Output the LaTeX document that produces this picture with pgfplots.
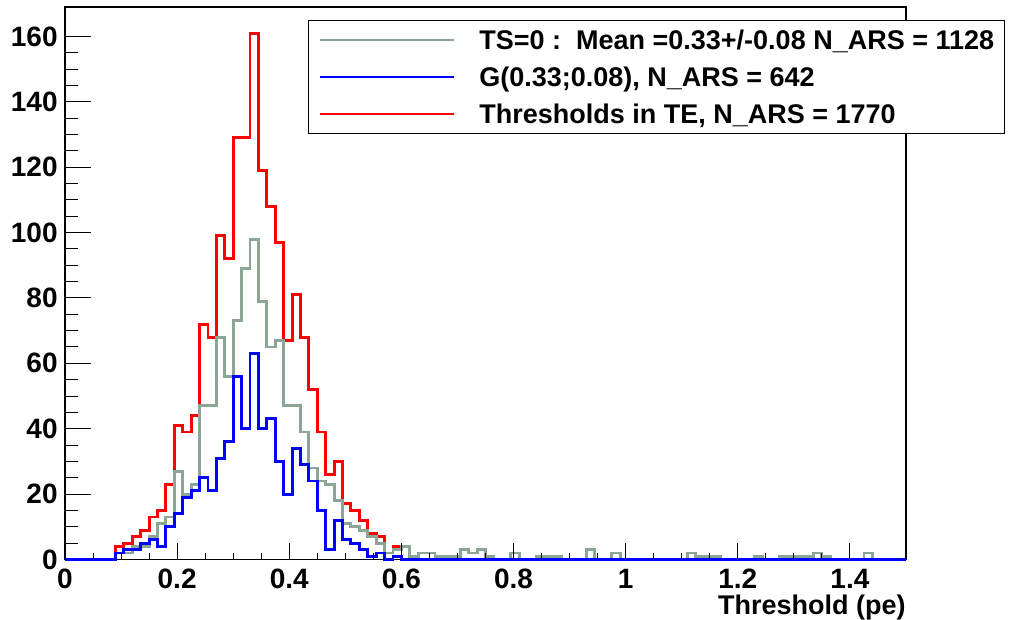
\documentclass[border=0pt]{standalone}
\usepackage{fontspec}
\setmainfont{Liberation Sans}
\usepackage{pgfplots}
\usepackage{pgfplotstable}
\pgfplotsset{compat=1.18}
\definecolor{hgrey}{RGB}{140,166,150}

\pgfplotstableread{
x grey blue red
0.000 0 0 0
0.015 0 0 0
0.030 0 0 0
0.045 0 0 0
0.060 0 0 0
0.075 0 0 0
0.090 2 2 4
0.105 2 3 5
0.120 4 3 7
0.135 4 5 9
0.150 7 6 13
0.165 11 4 15
0.180 13 10 23
0.195 27 14 41
0.210 20 19 39
0.225 23 21 44
0.240 47 25 72
0.255 47 21 68
0.270 68 31 99
0.285 56 36 92
0.300 73 56 129
0.315 89 40 129
0.330 98 63 161
0.345 79 40 119
0.360 65 43 108
0.375 67 30 97
0.390 47 20 67
0.405 47 34 81
0.420 39 29 68
0.435 28 24 52
0.450 24 15 39
0.465 23 3 26
0.480 18 12 30
0.495 11 6 17
0.510 10 5 15
0.525 9 3 12
0.540 7 1 8
0.555 5 2 7
0.570 2 0 2
0.585 3 1 4
0.600 4 0 4
0.615 1 0 1
0.630 2 0 2
0.645 2 0 2
0.660 1 0 1
0.675 1 0 1
0.690 1 0 1
0.705 3 0 3
0.720 2 0 2
0.735 3 0 3
0.750 1 0 1
0.765 0 0 0
0.780 0 0 0
0.795 2 0 2
0.810 0 0 0
0.825 0 0 0
0.840 1 0 1
0.855 1 0 1
0.870 1 0 1
0.885 0 0 0
0.900 0 0 0
0.915 0 0 0
0.930 3 0 3
0.945 0 0 0
0.960 0 0 0
0.975 2 0 2
0.990 0 0 0
1.005 0 0 0
1.020 0 0 0
1.035 0 0 0
1.050 0 0 0
1.065 0 0 0
1.080 0 0 0
1.095 0 0 0
1.110 2 0 2
1.125 1 0 1
1.140 1 0 1
1.155 1 0 1
1.170 0 0 0
1.185 0 0 0
1.200 0 0 0
1.215 0 0 0
1.230 1 0 1
1.245 0 0 0
1.260 0 0 0
1.275 1 0 1
1.290 1 0 1
1.305 1 0 1
1.320 1 0 1
1.335 2 0 2
1.350 1 0 1
1.365 0 0 0
1.380 0 0 0
1.395 0 0 0
1.410 0 0 0
1.425 2 0 2
1.440 0 0 0
1.455 0 0 0
1.470 0 0 0
1.485 0 0 0
1.500 0 0 0
}\histdata

\begin{document}
\begin{tikzpicture}
\useasboundingbox (-32.5pt,-30.25pt) rectangle (473pt,279.75pt);
\begin{axis}[
  scale only axis, width=420.5pt, height=276.25pt,
  xmin=0, xmax=1.5, ymin=0, ymax=169,
  clip=false,
  axis line style={line width=0.75pt},
  tick align=inside,
  xtick pos=left, ytick pos=left,
  xtick={0,0.2,0.4,0.6,0.8,1,1.2,1.4},
  xticklabels={0,0.2,0.4,0.6,0.8,1,1.2,1.4},
  minor x tick num=3,
  xtick style={draw=none}, minor x tick style={draw=none},
  ytick={0,20,40,60,80,100,120,140,160},
  minor y tick num=3,
  major tick length=13pt, minor tick length=6.5pt,
  ytick style={black, line width=0.5pt},
  minor y tick style={black, line width=0.5pt},
  /pgf/number format/assume math mode=true,
  tick label style={font=\fontsize{14}{16}\selectfont\bfseries},
  yticklabel style={inner sep=0pt, xshift=-3.5pt},
  xticklabel style={inner sep=0pt, yshift=-4.75pt},
  xlabel={Threshold (pe)},
  xlabel style={at={(rel axis cs:1,0)}, anchor=base east, yshift=-27.25pt, inner sep=0pt, font=\fontsize{13.5}{16}\selectfont\bfseries},
  legend cell align=left,
  legend image code/.code={\path (0pt,0pt) -- (67pt,0pt); \draw[#1] (15.5pt,0pt) -- (67pt,0pt);},
  legend style={at={(rel axis cs:0.2889,0.9765)}, anchor=north west, draw=black, line width=0.6pt, fill=white,
    inner xsep=5pt, inner ysep=3.25pt, row sep=5.5pt, column sep=12pt,
    font=\fontsize{13.5}{16}\selectfont\bfseries,
    nodes={inner sep=0pt, text height=11pt, text depth=2pt}},
]
\addlegendimage{hgrey, line width=1.4pt}
\addlegendentry{TS=0 :\ \ Mean =0.33+/-0.08 N\_ARS = 1128}
\addlegendimage{blue, line width=1.4pt}
\addlegendentry{G(0.33;0.08), N\_ARS = 642}
\addlegendimage{red, line width=1.4pt}
\addlegendentry{Thresholds in TE, N\_ARS = 1770}
\addplot[const plot, red, line width=1.45pt, forget plot] table[x=x, y=red] {\histdata};
\addplot[const plot, hgrey, line width=1.45pt, forget plot] table[x=x, y=grey] {\histdata};
\addplot[const plot, blue, line width=1.45pt, forget plot] table[x=x, y=blue] {\histdata};
\end{axis}
\begin{axis}[
  scale only axis, width=420.5pt, height=276.25pt,
  xmin=0, xmax=1.5, ymin=0, ymax=169,
  axis line style={draw=none},
  ytick=\empty,
  xtick={0,0.2,0.4,0.6,0.8,1,1.2,1.4},
  xticklabels={},
  minor x tick num=3,
  tick align=inside, xtick pos=left,
  major tick length=8pt, minor tick length=3.4pt,
  tick style={black, line width=0.5pt},
]
\end{axis}
\end{tikzpicture}
\end{document}
